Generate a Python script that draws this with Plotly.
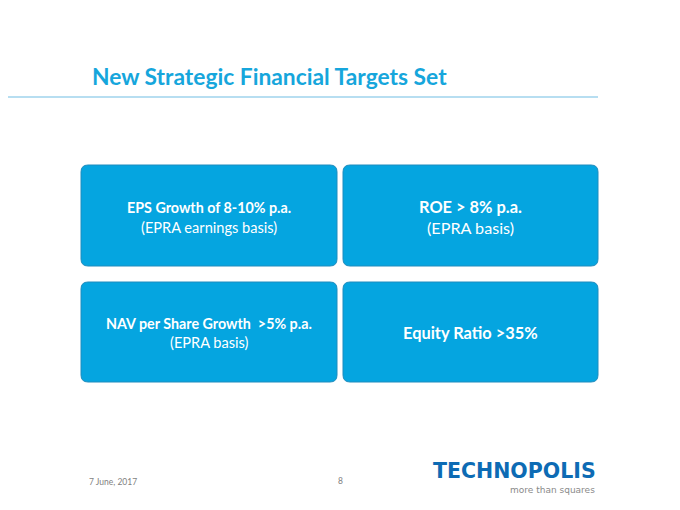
import plotly.graph_objects as go

# ---- content ----
title = "New Strategic Financial Targets Set"
box_main = ["EPS Growth of 8-10% p.a.", "ROE > 8% p.a.",
            "NAV per Share Growth  >5% p.a.", "Equity Ratio >35%"]
box_sub = ["(EPRA earnings basis)", "(EPRA basis)", "(EPRA basis)", ""]
footer_date = "7 June, 2017"
page_no = "8"
logo_text = "TECHNOPOLIS"
logo_tag = "more than squares"

# ---- layout (pixels) ----
W, H = 680, 510
OFF = 8  # page body margin compensation
boxes = [(81, 165, 337, 266), (343, 165, 598, 266),
         (81, 282, 337, 382), (343, 282, 598, 382)]
main_size = [14.3, 16.4, 14.3, 16.4]
sub_size = [14.6, 16.2, 14.6, 16.2]
main_dy = [-8, -9, -9, 0]
sub_dy = [11.5, 11.5, 10.5, 0]
FILL = "#05A5E0"
EDGE = "#1E8CBE"
FONT = "Lato, 'Open Sans', sans-serif"


def rrect(x0, y0, x1, y1, r=7):
    return (f"M{x0+r},{y0} L{x1-r},{y0} Q{x1},{y0} {x1},{y0+r} "
            f"L{x1},{y1-r} Q{x1},{y1} {x1-r},{y1} L{x0+r},{y1} "
            f"Q{x0},{y1} {x0},{y1-r} L{x0},{y0+r} Q{x0},{y0} {x0+r},{y0} Z")


fig = go.Figure()
shapes = [dict(type="line", x0=0, x1=598, y0=97, y1=97,
               line=dict(color="#9FD3EC", width=1.5))]
annotations = [dict(x=90, y=76, text=f"<b>{title}</b>", showarrow=False,
                    xanchor="left", yanchor="middle",
                    font=dict(family=FONT, size=22.8, color="#16A6DC"))]

for i, (x0, y0, x1, y1) in enumerate(boxes):
    shapes.append(dict(type="path", path=rrect(x0, y0, x1, y1),
                       fillcolor=FILL, line=dict(color=EDGE, width=1),
                       layer="below"))
    cx = (x0 + x1) / 2
    cy = (y0 + y1) / 2
    annotations.append(dict(x=cx, y=cy + main_dy[i], text=f"<b>{box_main[i]}</b>",
                            showarrow=False, xanchor="center", yanchor="middle",
                            font=dict(family=FONT, size=main_size[i], color="white")))
    if box_sub[i]:
        annotations.append(dict(x=cx, y=cy + sub_dy[i], text=box_sub[i],
                                showarrow=False, xanchor="center", yanchor="middle",
                                font=dict(family=FONT, size=sub_size[i], color="white")))

annotations += [
    dict(x=87, y=482, text=footer_date, showarrow=False, xanchor="left",
         yanchor="middle", font=dict(family=FONT, size=8.5, color="#7F7F7F")),
    dict(x=340, y=481, text=page_no, showarrow=False, xanchor="center",
         yanchor="middle", font=dict(family=FONT, size=8.5, color="#7F7F7F")),
    dict(x=598, y=471, text=f"<b>{logo_text}</b>", showarrow=False, xanchor="right",
         yanchor="middle", font=dict(family="'DejaVu Sans', sans-serif", size=20.5, color="#0D6BB4")),
    dict(x=597, y=490, text=logo_tag, showarrow=False, xanchor="right",
         yanchor="middle", font=dict(family="'DejaVu Sans', sans-serif", size=9, color="#8A8A8A")),
]

fig.update_layout(
    width=W, height=H, margin=dict(l=0, r=0, t=0, b=0),
    paper_bgcolor="white", plot_bgcolor="white",
    xaxis=dict(range=[OFF, W + OFF], visible=False, fixedrange=True),
    yaxis=dict(range=[H + OFF, OFF], visible=False, fixedrange=True),
    shapes=shapes, annotations=annotations, showlegend=False,
)
fig.write_html("out.html", config={"displayModeBar": False})
